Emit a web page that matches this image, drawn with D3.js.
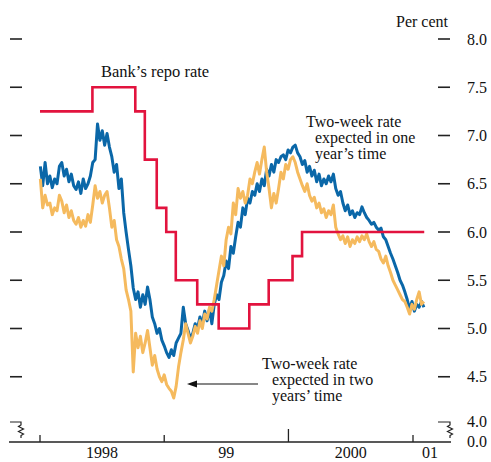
<!DOCTYPE html>
<html>
<head>
<meta charset="utf-8">
<script src="https://cdn.jsdelivr.net/npm/d3@7"></script>
<style>
  html, body { margin: 0; padding: 0; background: #fff; }
  svg { display: block; font-family: "Liberation Serif", "DejaVu Serif", serif; }
</style>
</head>
<body>
<div id="chart"></div>
<script>
// weekly observations starting 2 Jan 1998
const seriesStart = new Date(1998, 0, 2);

// two-week rate expected in one year's time (per cent)
const oneYear = [
  6.68, 6.48, 6.72, 6.50, 6.58, 6.46, 6.55, 6.50, 6.68, 6.72,
  6.58, 6.65, 6.52, 6.60, 6.48, 6.44, 6.52, 6.40, 6.55, 6.45,
  6.50, 6.58, 6.72, 6.75, 7.12, 6.95, 7.05, 6.90, 7.02, 6.88,
  6.78, 6.62, 6.70, 6.45, 6.55, 6.20, 6.00, 5.82, 5.65, 5.42,
  5.30, 5.38, 5.22, 5.35, 5.25, 5.43, 5.30, 5.12, 5.05, 4.95,
  5.00, 4.88, 4.82, 4.75, 4.70, 4.78, 4.72, 4.85, 4.90, 4.95,
  5.22, 5.05, 4.98, 4.90, 4.95, 5.05, 5.00, 5.12, 5.05, 5.18,
  5.08, 5.20, 5.05, 5.25, 5.35, 5.30, 5.48, 5.55, 5.70, 5.62,
  5.85, 5.78, 5.95, 6.10, 6.05, 6.25, 6.18, 6.35, 6.30, 6.42,
  6.38, 6.50, 6.42, 6.55, 6.48, 6.65, 6.58, 6.70, 6.62, 6.75,
  6.72, 6.78, 6.80, 6.75, 6.85, 6.82, 6.88, 6.90, 6.82, 6.78,
  6.70, 6.74, 6.62, 6.68, 6.58, 6.64, 6.52, 6.60, 6.48, 6.55,
  6.50, 6.58, 6.52, 6.60, 6.45, 6.38, 6.42, 6.30, 6.22, 6.28,
  6.18, 6.22, 6.15, 6.20, 6.18, 6.26, 6.20, 6.15, 6.12, 6.08,
  6.10, 6.05, 6.02, 6.04, 5.95, 5.92, 5.85, 5.78, 5.72, 5.65,
  5.58, 5.50, 5.45, 5.38, 5.30, 5.20, 5.28, 5.18, 5.25, 5.22,
  5.28, 5.22
];

// two-week rate expected in two years' time (per cent)
const twoYear = [
  6.55, 6.25, 6.38, 6.28, 6.30, 6.18, 6.25, 6.22, 6.38, 6.32,
  6.20, 6.28, 6.15, 6.22, 6.12, 6.08, 6.15, 6.05, 6.12, 6.06,
  6.18, 6.10, 6.28, 6.48, 6.35, 6.42, 6.30, 6.38, 6.42, 6.25,
  6.05, 6.12, 5.92, 5.85, 5.72, 5.62, 5.40, 5.30, 5.18, 4.55,
  4.95, 4.80, 4.92, 4.75, 4.85, 4.98, 4.80, 4.62, 4.72, 4.58,
  4.50, 4.45, 4.52, 4.42, 4.38, 4.35, 4.28, 4.40, 4.60, 4.75,
  4.88, 5.05, 4.95, 4.85, 4.92, 5.02, 4.95, 5.08, 5.00, 5.15,
  5.10, 5.22, 5.18, 5.30, 5.45, 5.60, 5.75, 5.65, 5.92, 6.05,
  5.98, 6.30, 6.18, 6.45, 6.35, 6.42, 6.30, 6.38, 6.55, 6.50,
  6.62, 6.72, 6.60, 6.75, 6.88, 6.62, 6.45, 6.25, 6.40, 6.30,
  6.45, 6.62, 6.55, 6.70, 6.65, 6.75, 6.78, 6.72, 6.62, 6.55,
  6.48, 6.42, 6.50, 6.38, 6.32, 6.36, 6.25, 6.30, 6.20, 6.24,
  6.15, 6.22, 6.18, 6.28, 6.05, 5.98, 5.92, 5.96, 5.88, 5.95,
  5.85, 5.92, 5.88, 5.95, 5.90, 5.96, 5.92, 5.98, 5.90, 5.85,
  5.90, 5.82, 5.80, 5.72, 5.68, 5.75, 5.65, 5.58, 5.50, 5.45,
  5.40, 5.35, 5.30, 5.28, 5.22, 5.15, 5.25, 5.20, 5.30, 5.38,
  5.25, 5.28
];

// Bank's repo rate: date of change and new level
const repoDates = [
  "1998-01-01", "1998-06-04", "1998-10-08", "1998-11-05", "1998-12-10",
  "1999-01-07", "1999-02-04", "1999-04-08", "1999-06-10", "1999-09-08",
  "1999-11-04", "2000-01-13", "2000-02-10", "2001-02-03"
];
const repoRates = [7.25, 7.5, 7.25, 6.75, 6.25, 6.0, 5.5, 5.25, 5.0, 5.25, 5.5, 5.75, 6.0, 6.0];

const yTicks = [4.5, 5.0, 5.5, 6.0, 6.5, 7.0, 7.5, 8.0];
const yearStarts = ["1998-01-01", "1999-01-01", "2000-01-01", "2001-01-01"];
const yearLabels = ["1998", "99", "2000", "01"];

const width = 491, height = 462;
const parse = d3.timeParse("%Y-%m-%d");
const fontSize = 16;

const svg = d3.select("#chart").append("svg")
  .attr("width", width)
  .attr("height", height)
  .attr("viewBox", [0, 0, width, height]);

svg.append("rect").attr("width", width).attr("height", height).attr("fill", "#fff");

const x = d3.scaleTime()
  .domain([parse("1998-01-01"), parse("2001-01-01")])
  .range([40, 413]);

const y = d3.scaleLinear()
  .domain([4, 8])
  .range([425, 39]);

const baseY = 442;
const breakY = 422;
const axisColor = "#222";

// y tick marks on both sides
const tickG = svg.append("g").attr("stroke", axisColor).attr("stroke-width", 1.6);
tickG.selectAll("line.l")
  .data(yTicks).join("line")
  .attr("class", "l")
  .attr("x1", 10).attr("x2", 22)
  .attr("y1", d => y(d)).attr("y2", d => y(d));
tickG.selectAll("line.r")
  .data(yTicks).join("line")
  .attr("class", "r")
  .attr("x1", 438).attr("x2", 450)
  .attr("y1", d => y(d)).attr("y2", d => y(d));

// right-hand labels
svg.append("g")
  .selectAll("text")
  .data(yTicks).join("text")
  .attr("x", 467)
  .attr("y", d => y(d) + 5.5)
  .attr("font-size", fontSize)
  .attr("fill", "#111")
  .text(d => d.toFixed(1));

svg.append("text")
  .attr("x", 448).attr("y", 27)
  .attr("text-anchor", "end")
  .attr("font-size", fontSize)
  .attr("fill", "#111")
  .text("Per cent");

// axis breaks (4.0 down to 0.0)
function breakPath(x0, x1) {
  const p = d3.path();
  p.moveTo(x0, breakY);
  p.lineTo(x1, breakY);
  p.lineTo(x1, breakY + 3);
  const zig = [[x1 - 2.5, 4.5], [x1 + 2.5, 7], [x1 - 2.5, 9.5], [x1 + 2.5, 12], [x1, 13.5]];
  zig.forEach(([px, dy]) => p.lineTo(px, breakY + dy));
  p.lineTo(x1, breakY + 16);
  return p.toString();
}
svg.append("path").attr("d", breakPath(10, 21))
  .attr("fill", "none").attr("stroke", axisColor).attr("stroke-width", 1.2);
svg.append("path").attr("d", breakPath(438, 450))
  .attr("fill", "none").attr("stroke", axisColor).attr("stroke-width", 1.2);

svg.append("text").attr("x", 467).attr("y", breakY + 5)
  .attr("font-size", fontSize).attr("fill", "#111").text("4.0");
svg.append("text").attr("x", 467).attr("y", baseY + 5)
  .attr("font-size", fontSize).attr("fill", "#111").text("0.0");

// x axis
svg.append("line")
  .attr("x1", 9).attr("x2", 451)
  .attr("y1", baseY).attr("y2", baseY)
  .attr("stroke", axisColor).attr("stroke-width", 1.4);

const yearDates = yearStarts.map(parse);
svg.append("g")
  .selectAll("line")
  .data(yearDates).join("line")
  .attr("x1", d => x(d)).attr("x2", d => x(d))
  .attr("y1", baseY)
  .attr("y2", (d, i) => baseY - (i === 2 ? 13 : 7))
  .attr("stroke", axisColor).attr("stroke-width", 1.3);

// year labels centred in each year span
svg.append("g")
  .selectAll("text")
  .data(yearLabels).join("text")
  .attr("x", (d, i) => i < 3 ? (x(yearDates[i]) + x(yearDates[i + 1])) / 2 : x(yearDates[3]) + 17)
  .attr("y", 458)
  .attr("text-anchor", "middle")
  .attr("font-size", fontSize)
  .attr("fill", "#111")
  .text(d => d);

// data lines
const weekDate = i => d3.timeWeek.offset(seriesStart, i);
const line = d3.line()
  .x(d => x(d[0]))
  .y(d => y(d[1]));

svg.append("path")
  .datum(oneYear.map((v, i) => [weekDate(i), v]))
  .attr("d", line)
  .attr("fill", "none")
  .attr("stroke", "#0a67a8")
  .attr("stroke-width", 3)
  .attr("stroke-linejoin", "round");

svg.append("path")
  .datum(twoYear.map((v, i) => [weekDate(i), v]))
  .attr("d", line)
  .attr("fill", "none")
  .attr("stroke", "#f5ba5e")
  .attr("stroke-width", 3)
  .attr("stroke-linejoin", "round");

svg.append("path")
  .datum(repoDates.map((d, i) => [parse(d), repoRates[i]]))
  .attr("d", line.curve(d3.curveStepAfter))
  .attr("fill", "none")
  .attr("stroke", "#e2133e")
  .attr("stroke-width", 2.6);

// annotations
function multiText(lines, xs, y0, lh) {
  const t = svg.append("text").attr("font-size", fontSize).attr("fill", "#111");
  lines.forEach((s, i) => {
    t.append("tspan").attr("x", xs[i]).attr("y", y0 + i * lh).text(s);
  });
}

svg.append("text")
  .attr("x", 101).attr("y", 77)
  .attr("font-size", 16.5).attr("fill", "#111")
  .text("Bank’s repo rate");

multiText(["Two-week rate", "expected in one", "year’s time"], [306, 315, 315], 127, 16);
multiText(["Two-week rate", "expected in two", "years’ time"], [262, 272, 272], 369, 16);

// arrow pointing at the two-year line
svg.append("line")
  .attr("x1", 258).attr("x2", 194)
  .attr("y1", 384).attr("y2", 384)
  .attr("stroke", "#111").attr("stroke-width", 1.2);
svg.append("path")
  .attr("d", "M187,384 L197,380.5 L197,387.5 Z")
  .attr("fill", "#111");
</script>
</body>
</html>
